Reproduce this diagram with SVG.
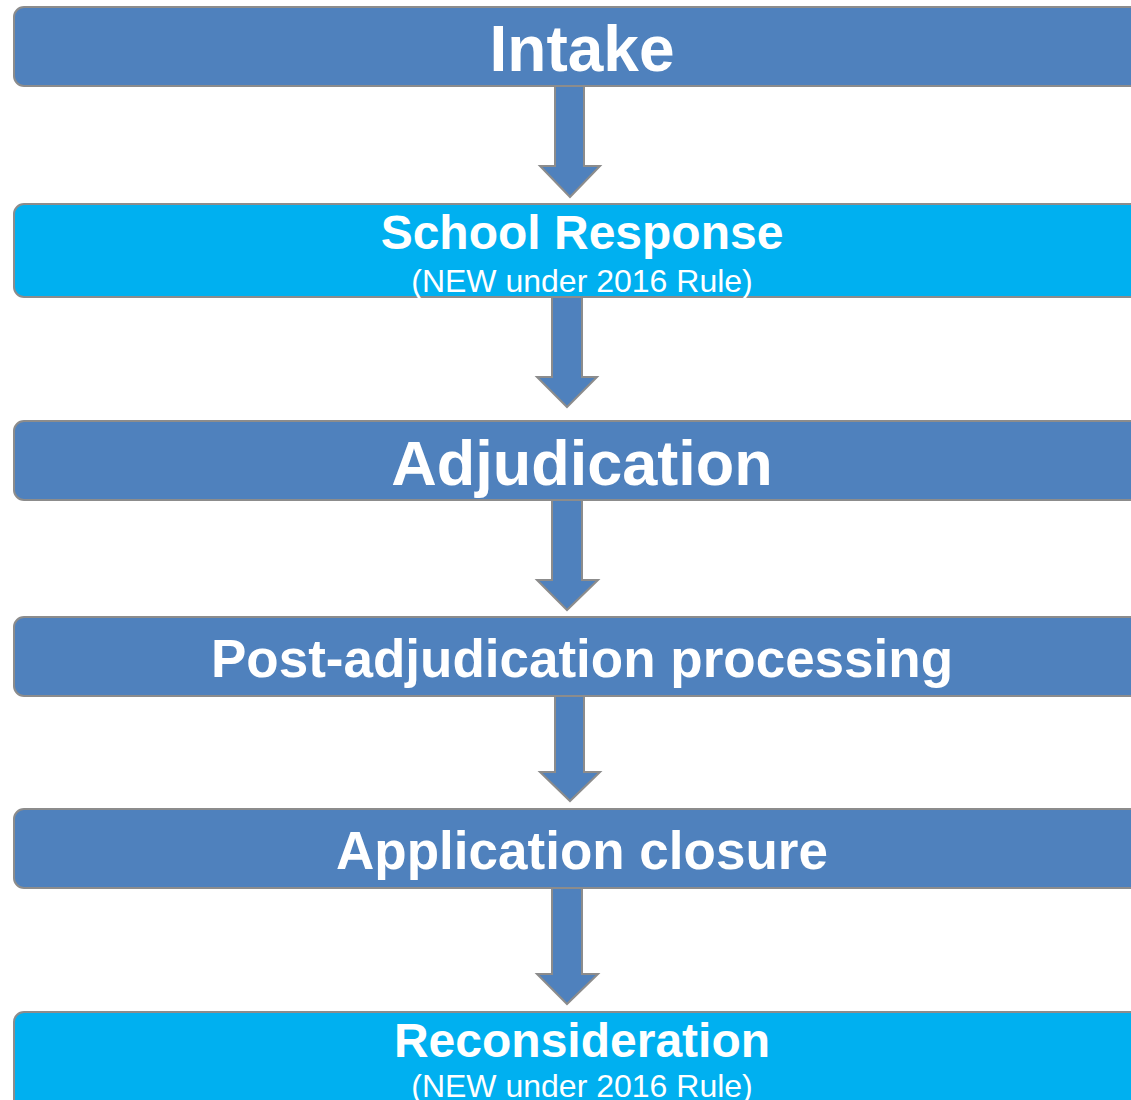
<svg xmlns="http://www.w3.org/2000/svg" width="1131" height="1100" viewBox="0 0 1131 1100">
<style>
.box{stroke:#8c8c8c;stroke-width:2}
.dark{fill:#4f81bd}
.cyan{fill:#00b0f0}
.arrow{fill:#4f81bd;stroke:#8c8c8c;stroke-width:2;stroke-linejoin:miter}
text{font-family:"Liberation Sans",Arial,sans-serif;fill:#ffffff;text-anchor:middle}
.t{font-weight:bold}
.s{font-size:32px}
</style>
<rect width="1131" height="1100" fill="#ffffff"/>
<g id="connectors">
<polygon class="arrow" points="555,86 584,86 584,166 600,166 570,197 540,166 555,166"/>
<polygon class="arrow" points="552,297 582,297 582,377 597,377 567,407 537,377 552,377"/>
<polygon class="arrow" points="552,500 582,500 582,580 598,580 567,610 537,580 552,580"/>
<polygon class="arrow" points="555,696 584,696 584,772 600,772 570,801 540,772 555,772"/>
<polygon class="arrow" points="552,888 582,888 582,974 598,974 567,1004 537,974 552,974"/>
</g>
<g id="intake">
<rect class="box dark" x="14" y="7" width="1140" height="79" rx="10"/>
<text class="t" x="582" y="71" font-size="64">Intake</text>
</g>
<g id="school-response">
<rect class="box cyan" x="14" y="204" width="1140" height="93" rx="10"/>
<text class="t" x="582" y="249" font-size="48">School Response</text>
<text class="s" x="582" y="292">(NEW under 2016 Rule)</text>
</g>
<g id="adjudication">
<rect class="box dark" x="14" y="421" width="1140" height="79" rx="10"/>
<text class="t" x="582" y="485" font-size="63">Adjudication</text>
</g>
<g id="post-adjudication">
<rect class="box dark" x="14" y="617" width="1140" height="79" rx="10"/>
<text class="t" x="582" y="677" font-size="53">Post-adjudication processing</text>
</g>
<g id="application-closure">
<rect class="box dark" x="14" y="809" width="1140" height="79" rx="10"/>
<text class="t" x="582" y="869" font-size="53">Application closure</text>
</g>
<g id="reconsideration">
<rect class="box cyan" x="14" y="1012" width="1140" height="120" rx="10"/>
<text class="t" x="582" y="1057" font-size="48">Reconsideration</text>
<text class="s" x="582" y="1097">(NEW under 2016 Rule)</text>
</g>
</svg>
